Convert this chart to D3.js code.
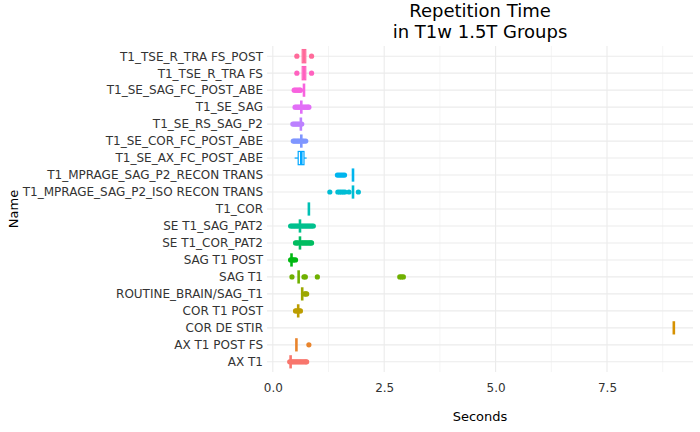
<!DOCTYPE html>
<html>
<head>
<meta charset="utf-8">
<script src="https://cdn.jsdelivr.net/npm/d3@7"></script>
<style>
  body { margin: 0; background: #fff; }
  text { font-family: "DejaVu Sans", sans-serif; }
</style>
</head>
<body>
<div id="visualization"></div>
<script>
// Sequence names, bottom to top (factor order)
const names = [
  "AX T1", "AX T1 POST FS", "COR DE STIR", "COR T1 POST", "ROUTINE_BRAIN/SAG_T1",
  "SAG T1", "SAG T1 POST", "SE T1_COR_PAT2", "SE T1_SAG_PAT2", "T1_COR",
  "T1_MPRAGE_SAG_P2_ISO RECON TRANS", "T1_MPRAGE_SAG_P2_RECON TRANS",
  "T1_SE_AX_FC_POST_ABE", "T1_SE_COR_FC_POST_ABE", "T1_SE_RS_SAG_P2",
  "T1_SE_SAG", "T1_SE_SAG_FC_POST_ABE", "T1_TSE_R_TRA FS", "T1_TSE_R_TRA FS_POST"
];

// Box statistics (seconds)
const whiskerLow = [0.40, 0.53, 9.00, 0.57, 0.66, 0.58, 0.42, 0.61, 0.61, 0.81, 1.80, 1.80, 0.49, 0.64, 0.63, 0.64, 0.70, 0.66, 0.66];
const q1         = [0.40, 0.53, 9.00, 0.57, 0.66, 0.58, 0.42, 0.61, 0.61, 0.81, 1.80, 1.80, 0.57, 0.64, 0.63, 0.64, 0.70, 0.66, 0.66];
const medians    = [0.40, 0.53, 9.00, 0.57, 0.66, 0.58, 0.42, 0.61, 0.61, 0.81, 1.80, 1.80, 0.64, 0.64, 0.63, 0.64, 0.70, 0.70, 0.70];
const q3         = [0.40, 0.53, 9.00, 0.57, 0.66, 0.58, 0.42, 0.61, 0.61, 0.81, 1.80, 1.80, 0.70, 0.64, 0.63, 0.64, 0.70, 0.74, 0.74];
const whiskerHigh= [0.40, 0.53, 9.00, 0.57, 0.66, 0.58, 0.42, 0.61, 0.61, 0.81, 1.80, 1.80, 0.76, 0.64, 0.63, 0.64, 0.70, 0.74, 0.74];

// Outliers per sequence
const outliers = [
  [0.38, 0.41, 0.44, 0.47, 0.50, 0.53, 0.56, 0.59, 0.62, 0.65, 0.68, 0.71, 0.74, 0.76],
  [0.81],
  [],
  [0.51, 0.54, 0.59, 0.62],
  [0.71, 0.74, 0.76],
  [0.43, 0.70, 0.73, 1.00, 2.85, 2.89, 2.93],
  [0.40, 0.44, 0.47, 0.51],
  [0.51, 0.54, 0.57, 0.64, 0.67, 0.70, 0.73, 0.76, 0.79, 0.82, 0.85, 0.87],
  [0.40, 0.43, 0.46, 0.49, 0.52, 0.55, 0.58, 0.64, 0.67, 0.70, 0.73, 0.76, 0.79, 0.82, 0.85, 0.88, 0.91],
  [],
  [1.28, 1.46, 1.50, 1.54, 1.58, 1.62, 1.71, 1.92],
  [1.45, 1.49, 1.53, 1.57, 1.61],
  [],
  [0.46, 0.49, 0.52, 0.55, 0.58, 0.61, 0.67, 0.70, 0.74],
  [0.45, 0.48, 0.51, 0.54, 0.57, 0.60, 0.65],
  [0.50, 0.53, 0.56, 0.59, 0.62, 0.67, 0.70, 0.73, 0.76, 0.79, 0.81],
  [0.48, 0.51, 0.54, 0.57, 0.60, 0.62],
  [0.54, 0.87],
  [0.54, 0.87]
];

const xTicks = [0, 2.5, 5, 7.5];
const xMinorTicks = [1.25, 3.75, 6.25, 8.75];

// R's hcl() (polar LUV) so colours match the ggplot hue palette
function rhcl(h, c, l) {
  const WX = 95.047, WY = 100, WZ = 108.883;
  const hr = h * Math.PI / 180;
  const U = c * Math.cos(hr), V = c * Math.sin(hr);
  const Y = WY * (l > 7.999592 ? Math.pow((l + 16) / 116, 3) : l / 903.3);
  const den = WX + 15 * WY + 3 * WZ;
  const u = U / (13 * l) + 4 * WX / den;
  const v = V / (13 * l) + 9 * WY / den;
  const X = 9 * Y * u / (4 * v);
  const Z = -X / 3 - 5 * Y + 3 * Y / v;
  const x = X / WY, y = Y / WY, z = Z / WY;
  const lin = [
    3.240479 * x - 1.537150 * y - 0.498535 * z,
    -0.969256 * x + 1.875992 * y + 0.041556 * z,
    0.055648 * x - 0.204043 * y + 1.057311 * z
  ];
  const ch = lin.map(t => {
    const g = t > 0.00304 ? 1.055 * Math.pow(t, 1 / 2.4) - 0.055 : 12.92 * t;
    return Math.round(Math.max(0, Math.min(1, g)) * 255);
  });
  return d3.rgb(ch[0], ch[1], ch[2]).formatHex();
}
const palette = names.map((d, i) => rhcl((15 + i * 360 / names.length) % 360, 100, 65));
const colorScale = d3.scaleOrdinal().domain(names).range(palette);

// Dimensions
const W = 700, H = 432;
const panel = { left: 267, right: 693, top: 46, bottom: 372 };

const svg = d3.select("#visualization")
  .append("svg")
  .attr("width", W)
  .attr("height", H);

const xScale = d3.scaleLinear()
  .domain([-0.13, 9.43])
  .range([panel.left, panel.right]);

const yScale = d3.scalePoint()
  .domain(names)
  .range([panel.bottom, panel.top])
  .padding(0.6);

const boxH = yScale.step() * 0.78;

// Grid
const grid = svg.append("g");
grid.selectAll(".minor")
  .data(xMinorTicks)
  .enter().append("line")
  .attr("x1", d => xScale(d)).attr("x2", d => xScale(d))
  .attr("y1", panel.top).attr("y2", panel.bottom)
  .attr("stroke", "#EBEBEB").attr("stroke-width", 0.55);
grid.selectAll(".major")
  .data(xTicks)
  .enter().append("line")
  .attr("x1", d => xScale(d)).attr("x2", d => xScale(d))
  .attr("y1", panel.top).attr("y2", panel.bottom)
  .attr("stroke", "#EBEBEB").attr("stroke-width", 1.1);
grid.selectAll(".hline")
  .data(names)
  .enter().append("line")
  .attr("x1", panel.left).attr("x2", panel.right)
  .attr("y1", d => yScale(d)).attr("y2", d => yScale(d))
  .attr("stroke", "#EBEBEB").attr("stroke-width", 1.1);

// Boxplots
const groups = svg.selectAll(".seq")
  .data(names.map((name, i) => ({
    name, lo: whiskerLow[i], q1: q1[i], med: medians[i], q3: q3[i], hi: whiskerHigh[i], out: outliers[i]
  })))
  .enter().append("g")
  .attr("class", "seq")
  .attr("transform", d => `translate(0,${yScale(d.name)})`);

groups.selectAll("circle")
  .data(d => d.out.map(v => ({ v, name: d.name })))
  .enter().append("circle")
  .attr("cx", d => xScale(d.v))
  .attr("cy", 0)
  .attr("r", 2.6)
  .attr("fill", d => colorScale(d.name));

groups.append("line")
  .attr("x1", d => xScale(d.lo)).attr("x2", d => xScale(d.q1))
  .attr("stroke", d => colorScale(d.name)).attr("stroke-width", 1.2);
groups.append("line")
  .attr("x1", d => xScale(d.q3)).attr("x2", d => xScale(d.hi))
  .attr("stroke", d => colorScale(d.name)).attr("stroke-width", 1.2);

groups.append("rect")
  .attr("x", d => xScale(d.q1))
  .attr("width", d => xScale(d.q3) - xScale(d.q1))
  .attr("y", -boxH / 2)
  .attr("height", boxH)
  .attr("fill", "#fff")
  .attr("stroke", d => colorScale(d.name))
  .attr("stroke-width", 1.2);

groups.append("line")
  .attr("x1", d => xScale(d.med)).attr("x2", d => xScale(d.med))
  .attr("y1", -boxH / 2).attr("y2", boxH / 2)
  .attr("stroke", d => colorScale(d.name))
  .attr("stroke-width", 2.6);

// Axes
const xAxis = svg.append("g")
  .attr("transform", `translate(0,${panel.bottom})`)
  .call(d3.axisBottom(xScale).tickValues(xTicks).tickFormat(d3.format(".1f")).tickSize(0).tickPadding(11));
xAxis.select(".domain").remove();
xAxis.selectAll("text").attr("font-size", 12).attr("fill", "#333333").attr("font-family", "DejaVu Sans");

const yAxis = svg.append("g")
  .attr("transform", `translate(${panel.left},0)`)
  .call(d3.axisLeft(yScale).tickSize(0).tickPadding(4));
yAxis.select(".domain").remove();
yAxis.selectAll("text").attr("font-size", 12).attr("fill", "#333333").attr("font-family", "DejaVu Sans");

// Titles
svg.append("text")
  .attr("x", (panel.left + panel.right) / 2)
  .attr("y", 17)
  .attr("text-anchor", "middle")
  .attr("font-size", 18)
  .text("Repetition Time");
svg.append("text")
  .attr("x", (panel.left + panel.right) / 2)
  .attr("y", 38)
  .attr("text-anchor", "middle")
  .attr("font-size", 18)
  .text("in T1w 1.5T Groups");

svg.append("text")
  .attr("x", (panel.left + panel.right) / 2)
  .attr("y", 421)
  .attr("text-anchor", "middle")
  .attr("font-size", 13)
  .text("Seconds");

svg.append("text")
  .attr("transform", `translate(18,${(panel.top + panel.bottom) / 2}) rotate(-90)`)
  .attr("text-anchor", "middle")
  .attr("font-size", 13)
  .text("Name");
</script>
</body>
</html>
